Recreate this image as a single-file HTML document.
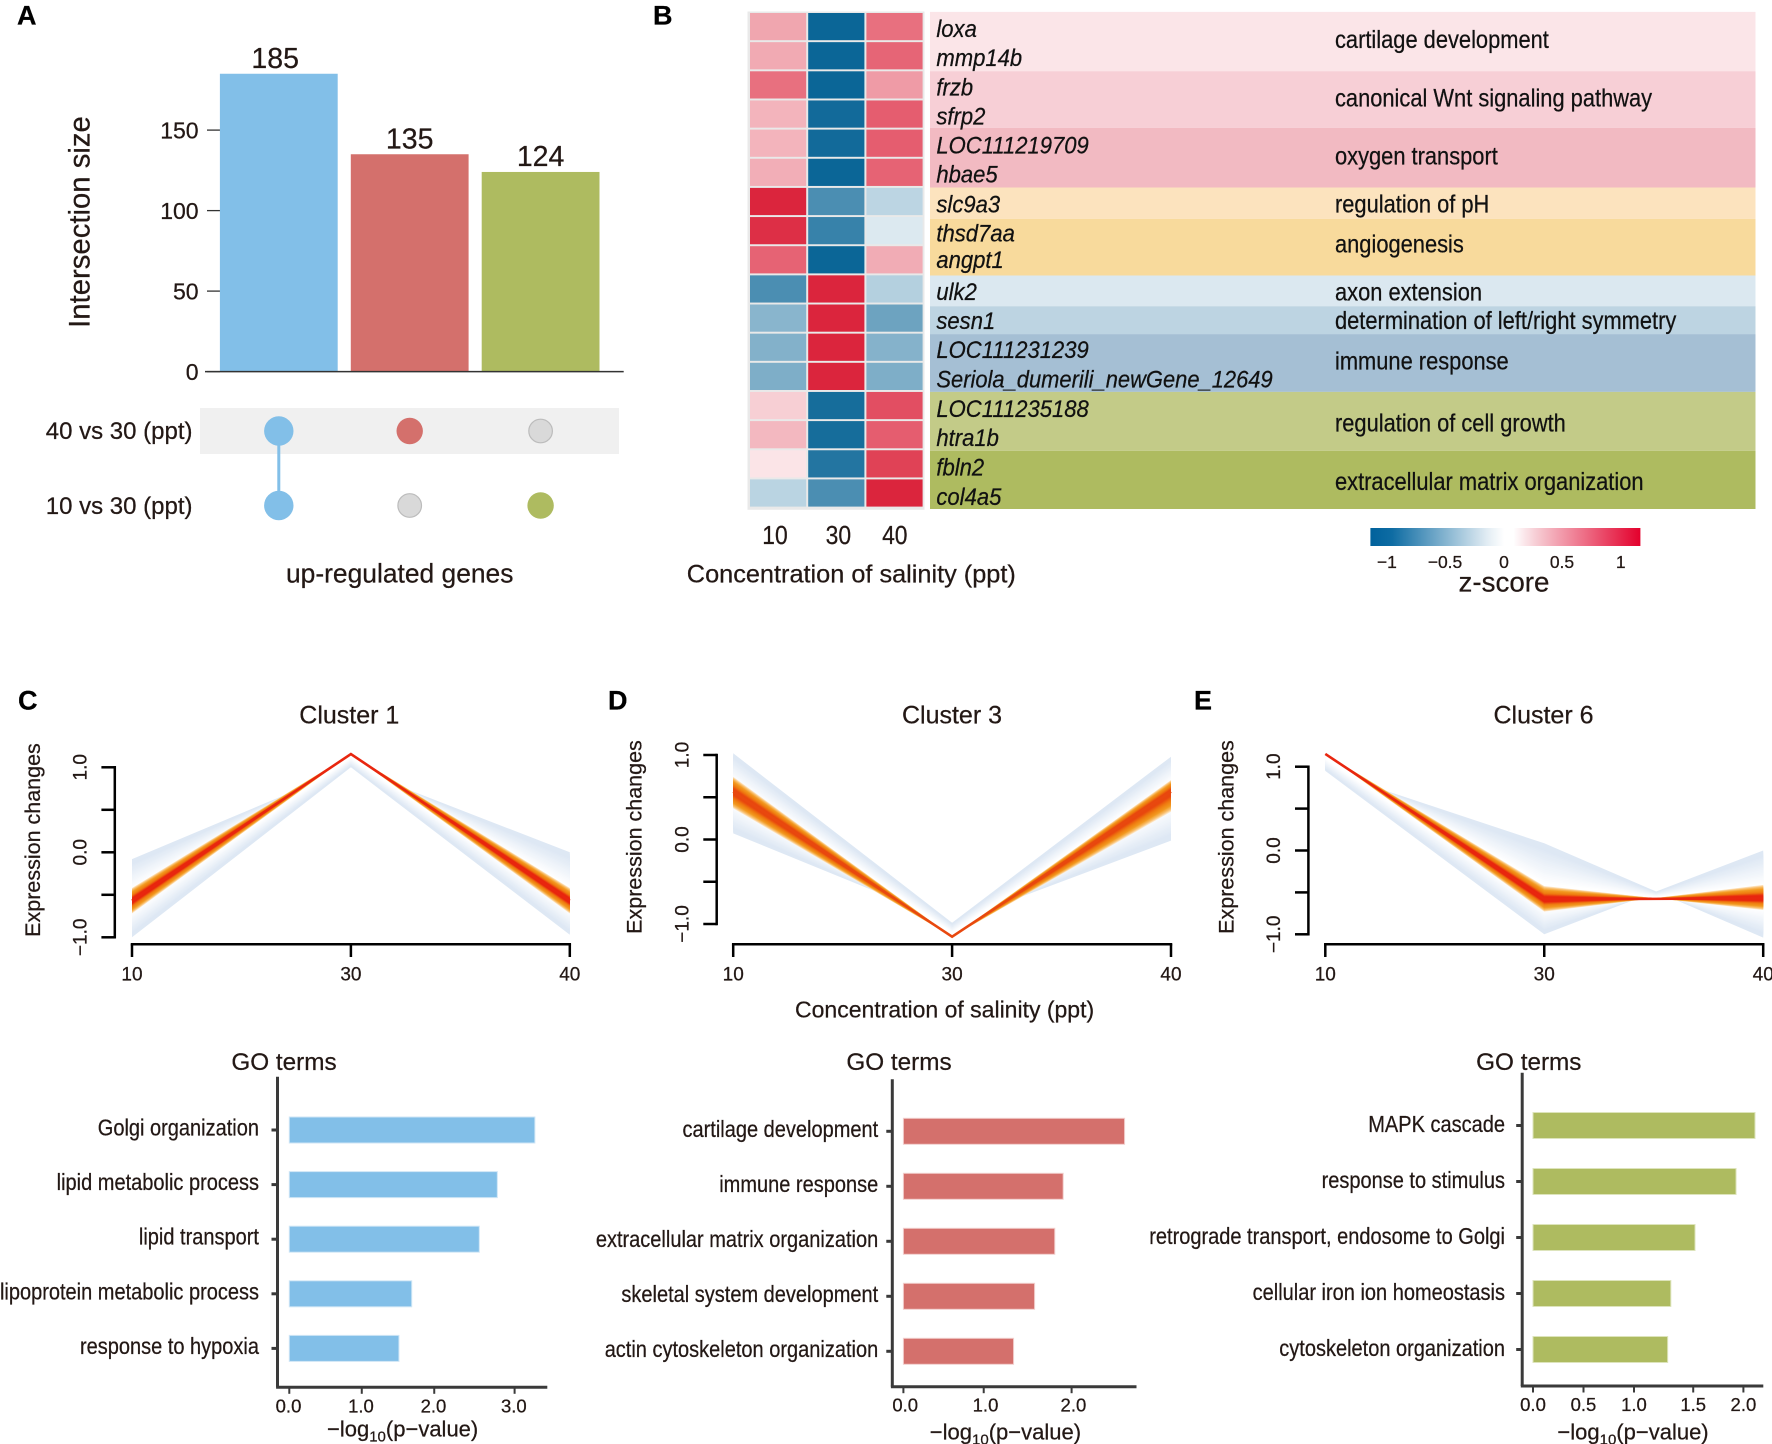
<!DOCTYPE html>
<html lang="en">
<head>
<meta charset="utf-8">
<title>Salinity gene expression figure</title>
<style>
html,body{margin:0;padding:0;background:#fff;width:1772px;height:1444px;overflow:hidden}
svg{display:block;font-family:"Liberation Sans",Arial,sans-serif}
text{fill:#231815;stroke:#231815;stroke-width:.25px}
.pl{font-weight:bold;font-size:27px;fill:#000;stroke:#000}
.gene{font-style:italic;font-size:24.5px;fill:#111;stroke:#111}
.term{font-size:25px;fill:#111;stroke:#111}
</style>
</head>
<body>
<svg id="fig" xmlns="http://www.w3.org/2000/svg" width="1772" height="1444" viewBox="0 0 1772 1444">
<defs>
<linearGradient id="zgrad" x1="0" x2="1" y1="0" y2="0">
<stop offset="0" stop-color="#00619c"/><stop offset="0.08" stop-color="#0e6ca3"/><stop offset="0.44" stop-color="#e6eff5"/><stop offset="0.495" stop-color="#ffffff"/><stop offset="0.53" stop-color="#ffffff"/><stop offset="0.62" stop-color="#f6c9d1"/><stop offset="1" stop-color="#e3002c"/>
</linearGradient>
</defs>

<text class="pl" x="17" y="24.5">A</text>
<text class="pl" x="653" y="24.5">B</text>
<text class="pl" x="18" y="709.5">C</text>
<text class="pl" x="608" y="709.5">D</text>
<text class="pl" x="1194" y="709.5">E</text>

<text font-size="29.3" text-anchor="middle" transform="translate(89.6,222) rotate(-90)">Intersection size</text>
<text font-size="26.4" x="286" y="582.5">up-regulated genes</text>
<rect x="200" y="408" width="419" height="46" fill="#f0f0f0"/>
<text font-size="24" text-anchor="end" x="192.5" y="439">40 vs 30 (ppt)</text>
<text font-size="24" text-anchor="end" x="192.5" y="514">10 vs 30 (ppt)</text>

<rect x="747.5" y="11.5" width="177" height="498.3" fill="#e9e9e9"/>
<g>
<rect x="930" y="11.9" width="825.5" height="59.3" fill="#fbe5e8"/>
<rect x="930" y="71.2" width="825.5" height="56.6" fill="#f7cfd6"/>
<rect x="930" y="127.8" width="825.5" height="59.7" fill="#f2bac2"/>
<rect x="930" y="187.5" width="825.5" height="31.4" fill="#fce3be"/>
<rect x="930" y="218.9" width="825.5" height="56.6" fill="#f8da9c"/>
<rect x="930" y="275.5" width="825.5" height="30.7" fill="#dbe8f0"/>
<rect x="930" y="306.2" width="825.5" height="27.9" fill="#bdd4e2"/>
<rect x="930" y="334.1" width="825.5" height="57.8" fill="#a5bfd4"/>
<rect x="930" y="391.9" width="825.5" height="58.9" fill="#c3cb88"/>
<rect x="930" y="450.8" width="825.5" height="58.2" fill="#aebb60"/>
</g>
<g>
<text class="gene" transform="translate(936.4,37.1) scale(.9,1)">loxa</text>
<text class="gene" transform="translate(936.4,66.2) scale(.9,1)">mmp14b</text>
<text class="gene" transform="translate(936.4,95.3) scale(.9,1)">frzb</text>
<text class="gene" transform="translate(936.4,124.4) scale(.9,1)">sfrp2</text>
<text class="gene" transform="translate(936.4,153.5) scale(.9,1)">LOC111219709</text>
<text class="gene" transform="translate(936.4,182.5) scale(.9,1)">hbae5</text>
<text class="gene" transform="translate(936.4,212.4) scale(.9,1)">slc9a3</text>
<text class="gene" transform="translate(936.4,241.5) scale(.9,1)">thsd7aa</text>
<text class="gene" transform="translate(936.4,267.9) scale(.9,1)">angpt1</text>
<text class="gene" transform="translate(936.4,300) scale(.9,1)">ulk2</text>
<text class="gene" transform="translate(936.4,329.1) scale(.9,1)">sesn1</text>
<text class="gene" transform="translate(936.4,358.2) scale(.9,1)">LOC111231239</text>
<text class="gene" transform="translate(936.4,387.7) scale(.895,1)">Seriola_dumerili_newGene_12649</text>
<text class="gene" transform="translate(936.4,416.8) scale(.9,1)">LOC111235188</text>
<text class="gene" transform="translate(936.4,446.2) scale(.9,1)">htra1b</text>
<text class="gene" transform="translate(936.4,475.7) scale(.9,1)">fbln2</text>
<text class="gene" transform="translate(936.4,505.2) scale(.9,1)">col4a5</text>
</g>
<g>
<text class="term" transform="translate(1335,47.8) scale(.875,1)">cartilage development</text>
<text class="term" transform="translate(1335,106.4) scale(.875,1)">canonical Wnt signaling pathway</text>
<text class="term" transform="translate(1335,164.6) scale(.875,1)">oxygen transport</text>
<text class="term" transform="translate(1335,212.4) scale(.875,1)">regulation of pH</text>
<text class="term" transform="translate(1335,252.6) scale(.875,1)">angiogenesis</text>
<text class="term" transform="translate(1335,300.4) scale(.875,1)">axon extension</text>
<text class="term" transform="translate(1335,329.1) scale(.875,1)">determination of left/right symmetry</text>
<text class="term" transform="translate(1335,369.3) scale(.875,1)">immune response</text>
<text class="term" transform="translate(1335,431.3) scale(.875,1)">regulation of cell growth</text>
<text class="term" transform="translate(1335,489.9) scale(.875,1)">extracellular matrix organization</text>
</g>
<text font-size="26" text-anchor="middle" transform="translate(775,543.8) scale(.88,1)">10</text>
<text font-size="26" text-anchor="middle" transform="translate(838.4,543.8) scale(.88,1)">30</text>
<text font-size="26" text-anchor="middle" transform="translate(894.8,543.8) scale(.88,1)">40</text>
<text font-size="25.3" x="686.8" y="582.5">Concentration of salinity (ppt)</text>

<rect x="1370.4" y="528" width="270" height="18" fill="url(#zgrad)"/>
<text font-size="17.5" text-anchor="middle" x="1386.9" y="568">−1</text>
<text font-size="17.5" text-anchor="middle" x="1445" y="568">−0.5</text>
<text font-size="17.5" text-anchor="middle" x="1504" y="568">0</text>
<text font-size="17.5" text-anchor="middle" x="1562" y="568">0.5</text>
<text font-size="17.5" text-anchor="middle" x="1620.8" y="568">1</text>
<text font-size="28" text-anchor="middle" transform="translate(1504,591.3) scale(.99,1)">z-score</text>

<text font-size="25" text-anchor="middle" x="349.3" y="723.5">Cluster 1</text>
<text font-size="25" text-anchor="middle" x="952" y="723.5">Cluster 3</text>
<text font-size="25" text-anchor="middle" x="1543.5" y="723.5">Cluster 6</text>
<text font-size="21.5" text-anchor="middle" transform="translate(40,840) rotate(-90)">Expression changes</text>
<text font-size="21.5" text-anchor="middle" transform="translate(641.3,837) rotate(-90)">Expression changes</text>
<text font-size="21.5" text-anchor="middle" transform="translate(1233.6,837) rotate(-90)">Expression changes</text>
<text font-size="23" x="795" y="1017.5">Concentration of salinity (ppt)</text>

<text font-size="24.3" text-anchor="middle" x="284" y="1070">GO terms</text>
<text font-size="24.3" text-anchor="middle" x="899" y="1070">GO terms</text>
<text font-size="24.3" text-anchor="middle" x="1528.8" y="1070">GO terms</text>
<text font-size="22" x="327" y="1436.7">−log<tspan font-size="15" dy="5">10</tspan><tspan dy="-5">(p−value)</tspan></text>
<text font-size="22" x="929.8" y="1439.3">−log<tspan font-size="15" dy="5">10</tspan><tspan dy="-5">(p−value)</tspan></text>
<text font-size="22" x="1557.4" y="1439.3">−log<tspan font-size="15" dy="5">10</tspan><tspan dy="-5">(p−value)</tspan></text>
</svg>

<script>
/* ---------- data ---------- */
const upsetCategories = ['both', '40-vs-30', '10-vs-30'];
const upsetCounts = [185, 135, 124];
const upsetTicks = [0, 50, 100, 150];
const upsetIn40 = [1, 1, 0];
const upsetIn10 = [1, 0, 1];

const heatmapZ10 = [0.43, 0.41, 0.69, 0.36, 0.36, 0.39, 1.05, 1.0, 0.75, -0.81, -0.53, -0.56, -0.58, 0.23, 0.34, 0.13, -0.31];
const heatmapZ30 = [-1.1, -1.1, -1.1, -1.07, -1.07, -1.1, -0.81, -0.9, -1.1, 1.05, 1.05, 1.05, 1.05, -1.05, -1.05, -0.99, -0.81];
const heatmapZ40 = [0.69, 0.74, 0.48, 0.78, 0.78, 0.75, -0.3, -0.16, 0.4, -0.34, -0.66, -0.55, -0.58, 0.85, 0.78, 0.91, 1.05];

const clusterStages = ['10', '30', '40'];
const clusterYTicks = [-1, -0.5, 0, 0.5, 1];
const clusterYLabels = ['−1.0', '', '0.0', '', '1.0'];

const c1Centre = [-0.57, 1.156, -0.57];
const c1OuterA = [-0.08, 1.0, 0.0];
const c1OuterB = [-1.0, 1.0, -0.97];
const c1CoreA = [-0.42, 1.156, -0.42];
const c1CoreB = [-0.72, 1.156, -0.72];

const c3Centre = [0.566, -1.15, 0.566];
const c3OuterA = [1.02, -0.985, 0.98];
const c3OuterB = [0.073, -0.985, -0.014];
const c3CoreA = [0.743, -1.15, 0.704];
const c3CoreB = [0.369, -1.15, 0.329];

const c6Centre = [1.152, -0.583, -0.571];
const c6OuterA = [0.953, 0.086, -1.04];
const c6OuterB = [0.95, -1.0, 0.0];
const c6CoreA = [1.152, -0.424, -0.71];
const c6CoreB = [1.152, -0.73, -0.41];

const go1Terms = ['Golgi organization', 'lipid metabolic process', 'lipid transport', 'lipoprotein metabolic process', 'response to hypoxia'];
const go1Values = [3.27, 2.77, 2.53, 1.63, 1.46];
const go1TickValues = [0, 0.965, 1.93, 3];
const go1TickLabels = ['0.0', '1.0', '2.0', '3.0'];

const go3Terms = ['cartilage development', 'immune response', 'extracellular matrix organization', 'skeletal system development', 'actin cytoskeleton organization'];
const go3Values = [2.63, 1.9, 1.8, 1.56, 1.31];
const go3TickValues = [0, 0.955, 2];
const go3TickLabels = ['0.0', '1.0', '2.0'];

const go6Terms = ['MAPK cascade', 'response to stimulus', 'retrograde transport, endosome to Golgi', 'cellular iron ion homeostasis', 'cytoskeleton organization'];
const go6Values = [2.11, 1.93, 1.54, 1.31, 1.28];
const go6TickValues = [0, 0.48, 0.96, 1.523, 2];
const go6TickLabels = ['0.0', '0.5', '1.0', '1.5', '2.0'];

/* ---------- helpers ---------- */
const NS = 'http://www.w3.org/2000/svg';
const fig = document.getElementById('fig');
function mk(tag, props, parent) {
  const e = document.createElementNS(NS, tag);
  for (const k in props) e.setAttribute(k, props[k]);
  (parent || fig).appendChild(e);
  return e;
}
function lerpHex(a, b, t) {
  const pa = [1, 3, 5].map(i => parseInt(a.substr(i, 2), 16));
  const pb = [1, 3, 5].map(i => parseInt(b.substr(i, 2), 16));
  return 'rgb(' + pa.map((v, i) => Math.round(v + (pb[i] - v) * t)).join(',') + ')';
}

/* ---------- panel A: upset ---------- */
const upsetColors = ['#82bfe8', '#d4706c', '#aebb60'];
const upsetY = v => 371.6 - 1.61 * v;
const upsetX = i => 278.8 + i * 130.9;
upsetTicks.forEach(v => {
  const tick = mk('line', {x1: 207, x2: 220, y1: upsetY(v), y2: upsetY(v), stroke: '#333', 'stroke-width': 1.3});
  
  
  const lab = mk('text', {x: 198.6, y: upsetY(v) + 8.2, 'text-anchor': 'end', 'font-size': 23});
  lab.textContent = String(v);
  
  
});
upsetCounts.forEach((v, i) => {
  const bar = mk('rect', {x: upsetX(i) - 58.9, y: upsetY(v), width: 117.8, height: upsetY(0) - upsetY(v), fill: upsetColors[i]});
  
  
  const lab = mk('text', {x: upsetX(i) - (i === 0 ? 3.6 : 0), y: upsetY(v) - 6, 'text-anchor': 'middle', 'font-size': 28.5});
  lab.textContent = String(v);
  
  
});
const upsetBase = mk('line', {x1: 205, x2: 623.7, y1: upsetY(0), y2: upsetY(0), stroke: '#333', 'stroke-width': 1.5});


const rowY40 = 431, rowY10 = 505.5;
upsetCategories.forEach((c, i) => {
  if (upsetIn40[i] && upsetIn10[i]) {
    const link = mk('line', {x1: upsetX(i), x2: upsetX(i), y1: rowY40, y2: rowY10, stroke: upsetColors[i], 'stroke-width': 3});
    
    
  }
  [[upsetIn40[i], rowY40], [upsetIn10[i], rowY10]].forEach(pair => {
    const on = pair[0];
    const r = on ? (i === 0 ? 14.7 : 13.2) : 11.8;
    const dot = mk('circle', {cx: upsetX(i), cy: pair[1], r: r, fill: on ? upsetColors[i] : '#d9d9d9', stroke: on ? 'none' : '#bcbcbc', 'stroke-width': 1.2});
    
    
  });
});

/* ---------- panel B: heatmap ---------- */
function zColor(z) {
  const t = Math.min(1, Math.abs(z) / 1.15);
  return z < 0 ? lerpHex('#ffffff', '#005f92', t) : lerpHex('#ffffff', '#d8102a', t);
}
const heatCols = [heatmapZ10, heatmapZ30, heatmapZ40];
heatCols.forEach((col, c) => {
  col.forEach((z, r) => {
    const cell = mk('rect', {x: 750 + c * 58.2, y: 13 + r * 29.15, width: 56.2, height: 27.2, fill: zColor(z)});
    
    
  });
});

/* ---------- panels C-E: clusters ---------- */
function bandFill(t) {
  if (t <= 0.3) return '#ffffff';
  if (t >= 0.9) return '#dee8f4';
  return lerpHex('#ffffff', '#dee8f4', (t - 0.3) / 0.6);
}
function coreFill(u, red) {
  if (u > 0.88) return lerpHex('#f9c070', '#fde8cc', (u - 0.88) / 0.12);
  if (u > 0.7) return lerpHex('#f29a20', '#f9c070', (u - 0.7) / 0.18);
  if (u > 0.45) return lerpHex('#ee7a10', '#f29a20', (u - 0.45) / 0.25);
  if (u > 0.22) return lerpHex(red, '#ee7a10', (u - 0.22) / 0.23);
  return red;
}
function drawCluster(g, centre, outerA, outerB, coreA, coreB) {
  const xs = i => g.left + i * g.step;
  const ys = v => g.zero - v * g.unit;
  const strip = (from, t, col) => {
    const pts = [];
    centre.forEach((v, i) => pts.push(xs(i) + ',' + ys(v)));
    for (let i = centre.length - 1; i >= 0; i--) {
      pts.push(xs(i) + ',' + ys(centre[i] + t * (from[i] - centre[i])));
    }
    const p = mk('polygon', {points: pts.join(' '), fill: col});
    
    
  };
  const n = 30;
  for (let k = n; k >= 1; k--) {
    const t = k / n;
    strip(outerA, t, bandFill(t));
    strip(outerB, t, bandFill(t));
  }
  for (let k = n; k >= 1; k--) {
    const t = k / n;
    strip(coreA, t, coreFill(t, g.red));
    strip(coreB, t, coreFill(t, g.red));
  }
  const mid = mk('polyline', {points: centre.map((v, i) => xs(i) + ',' + ys(v)).join(' '), fill: 'none', stroke: g.red, 'stroke-width': 2.6, 'stroke-linejoin': 'miter'});
  
  

  const yAxis = mk('line', {x1: g.axisX, x2: g.axisX, y1: ys(1), y2: ys(-1), stroke: '#000', 'stroke-width': 2.5, 'stroke-linecap': 'square'});
  
  
  clusterYTicks.forEach((v, i) => {
    const tick = mk('line', {x1: g.axisX - 13.4, x2: g.axisX, y1: ys(v), y2: ys(v), stroke: '#000', 'stroke-width': 2.5});
    
    
    if (clusterYLabels[i]) {
      const lab = mk('text', {'font-size': 19, 'text-anchor': 'middle', transform: 'translate(' + (g.axisX - 28.4) + ',' + ys(v) + ') rotate(-90)'});
      lab.textContent = clusterYLabels[i];
      
      
    }
  });
  const xAxis = mk('line', {x1: xs(0), x2: xs(2), y1: 944.2, y2: 944.2, stroke: '#000', 'stroke-width': 2.5, 'stroke-linecap': 'square'});
  
  
  clusterStages.forEach((s, i) => {
    const tick = mk('line', {x1: xs(i), x2: xs(i), y1: 944.2, y2: 957, stroke: '#000', 'stroke-width': 2.5});
    
    
    const lab = mk('text', {x: xs(i), y: 980.5, 'text-anchor': 'middle', 'font-size': 19});
    lab.textContent = s;
    
    
  });
}
drawCluster({left: 132, step: 218.9, zero: 852.3, unit: 85, axisX: 114.8, red: '#e8260f'}, c1Centre, c1OuterA, c1OuterB, c1CoreA, c1CoreB);
drawCluster({left: 733.2, step: 218.9, zero: 839.5, unit: 84.5, axisX: 716.7, red: '#e8480f'}, c3Centre, c3OuterA, c3OuterB, c3CoreA, c3CoreB);
drawCluster({left: 1325.3, step: 218.95, zero: 850.5, unit: 83.8, axisX: 1308.4, red: '#e8260f'}, c6Centre, c6OuterA, c6OuterB, c6CoreA, c6CoreB);

/* ---------- GO bars ---------- */
function drawGo(g, terms, values, tickValues, tickLabels) {
  const xs = v => g.zeroX + v * g.unit;
  const ys = i => g.firstY + i * g.pitch;
  const axisColor = '#3a3a3a';
  values.forEach((v, i) => {
    const bar = mk('rect', {x: xs(0), y: ys(i) - 13, width: xs(v) - xs(0), height: 26, fill: g.color, stroke: g.edge, 'stroke-width': 1});
    
    
    const tick = mk('line', {x1: g.axisX - 6, x2: g.axisX, y1: ys(i), y2: ys(i), stroke: axisColor, 'stroke-width': 3});
    
    
    const lab = mk('text', {'font-size': 23, 'text-anchor': 'end', transform: 'translate(' + g.labelX + ',' + (ys(i) + g.labelDy) + ') scale(.87,1)'});
    lab.textContent = terms[i];
    
    
  });
  const yAxis = mk('line', {x1: g.axisX, x2: g.axisX, y1: g.top, y2: g.bottom, stroke: axisColor, 'stroke-width': 3});
  
  
  const xAxis = mk('line', {x1: g.axisX - 1.4, x2: g.right, y1: g.bottom, y2: g.bottom, stroke: axisColor, 'stroke-width': 3});
  
  
  tickValues.forEach((v, i) => {
    const tick = mk('line', {x1: xs(v), x2: xs(v), y1: g.bottom, y2: g.bottom + 6.5, stroke: axisColor, 'stroke-width': 2});
    
    
    const lab = mk('text', {x: xs(v) + g.tickLabelDx, y: g.bottom + 25, 'text-anchor': 'middle', 'font-size': 18.5});
    lab.textContent = tickLabels[i];
    
    
  });
}
drawGo({zeroX: 289.3, unit: 75.1, firstY: 1130, pitch: 54.6, axisX: 277.5, labelX: 259, labelDy: 5.5, tickLabelDx: -0.8, top: 1076.7, bottom: 1387.3, right: 547.3, color: '#82bfe8', edge: '#cfe6f6'}, go1Terms, go1Values, go1TickValues, go1TickLabels);
drawGo({zeroX: 903.4, unit: 84.1, firstY: 1131.3, pitch: 55, axisX: 892.3, labelX: 878.2, labelDy: 5.5, tickLabelDx: 1.8, top: 1079.3, bottom: 1386.7, right: 1136.5, color: '#d4706c', edge: '#f2cfcd'}, go3Terms, go3Values, go3TickValues, go3TickLabels);
drawGo({zeroX: 1533, unit: 105.2, firstY: 1125.5, pitch: 56, axisX: 1522.2, labelX: 1505, labelDy: 6.3, tickLabelDx: 0, top: 1072.7, bottom: 1386, right: 1763.3, color: '#aebb60', edge: '#dde4bb'}, go6Terms, go6Values, go6TickValues, go6TickLabels);
</script>
</body>
</html>
